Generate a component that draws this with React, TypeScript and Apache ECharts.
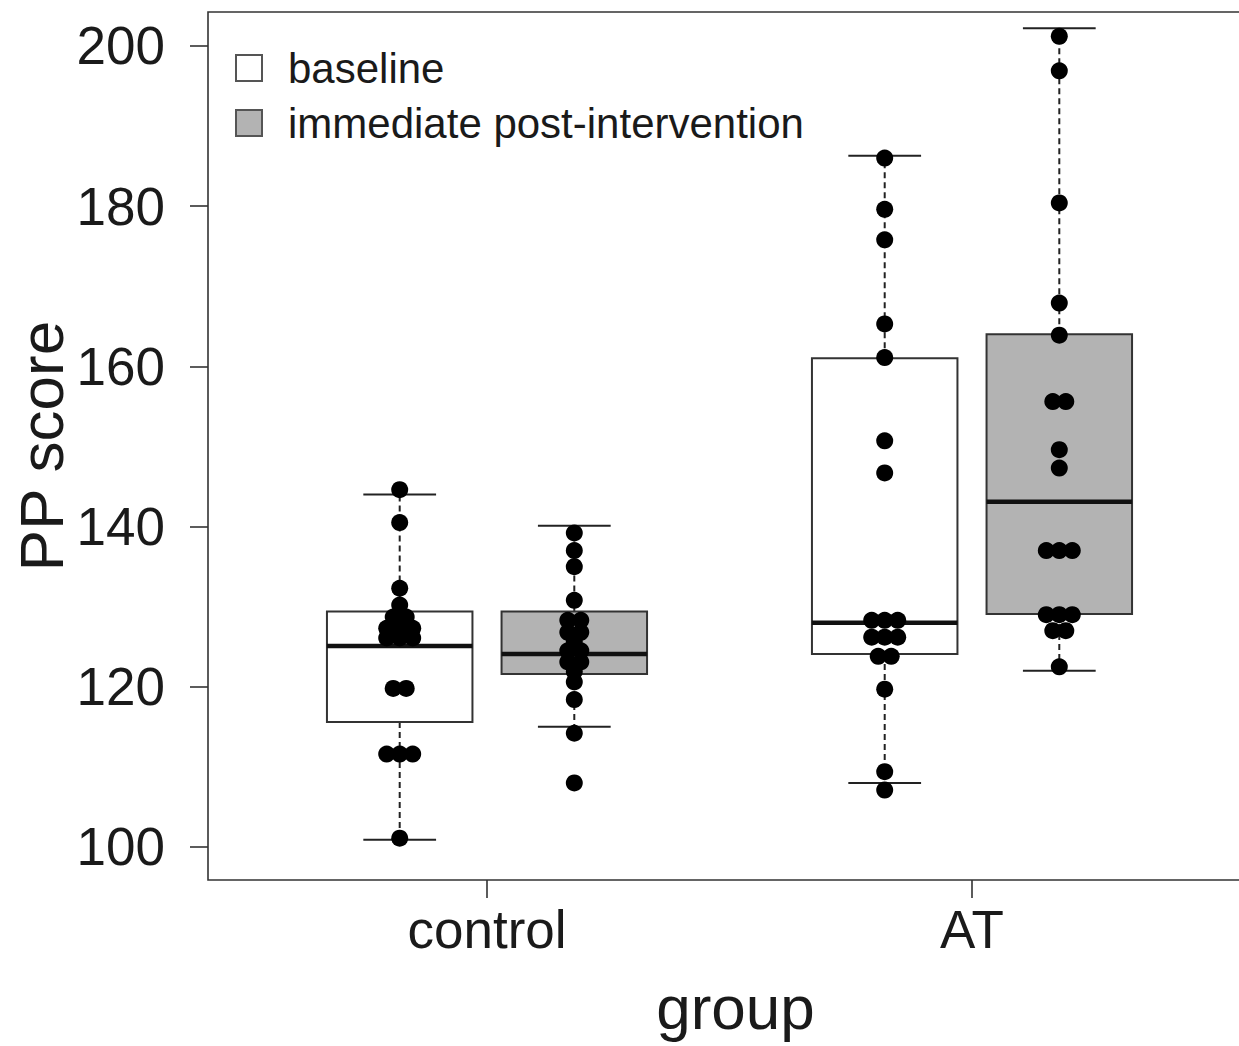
import React, { useEffect, useRef } from "react";
import * as echarts from "echarts";

// ---------- data ----------
const groups = ["control", "AT"];
const groupPositions = [1, 2];
const seriesNames = ["baseline", "immediate post-intervention"];

// box stats: [lower whisker, Q1, median, Q3, upper whisker] per group
const baselineStats = [
  [100.9, 115.6, 125.1, 129.4, 144.0],
  [108.0, 124.1, 128.0, 161.0, 186.3],
];
const postStats = [
  [115.0, 121.6, 124.1, 129.4, 140.1],
  [122.0, 129.1, 143.1, 164.0, 202.2],
];

// individual scores (as displayed in the beeswarm)
const controlBaseline = [144.6, 140.5, 132.3, 130.2, 128.7, 128.7, 127.3, 127.3, 127.3, 126.1, 126.1, 126.1, 119.8, 119.8, 111.6, 111.6, 111.6, 101.1];
const controlPost = [139.2, 137.0, 135.0, 130.8, 128.3, 128.3, 126.8, 126.8, 125.7, 124.5, 124.5, 123.1, 123.1, 121.9, 120.6, 118.4, 114.2, 108.0];
const atBaseline = [186.0, 179.6, 175.8, 165.3, 161.1, 150.7, 146.7, 128.3, 128.3, 128.3, 126.2, 126.2, 126.2, 123.8, 123.8, 119.7, 109.4, 107.1];
const atPost = [201.2, 196.9, 180.4, 167.9, 163.9, 155.6, 155.6, 149.6, 147.3, 137.0, 137.0, 137.0, 129.0, 129.0, 129.0, 127.0, 127.0, 122.5];

const yTicks = [100, 120, 140, 160, 180, 200];

// ---------- layout ----------
const FONT = "'Liberation Sans', Arial, Helvetica, sans-serif";
const TEXT = "#1a1a1a";
const LINE = "#333333";
const GRID_LEFT = 208;
const GRID_TOP = 12;
const GRID_W = 1055;
const GRID_H = 868;
const X_MIN = 0.42474;
const X_MAX = 2.6;
const Y_MIN = 95.88;
const Y_MAX = 204.24;
const PX_PER_X = GRID_W / (X_MAX - X_MIN);
const BOX_OFFSET = 0.18;
const BOX_W = 0.30;
const CAP_W = 0.15;
const DOT_SIZE = 17;
const DOT_SPACING = 13 / PX_PER_X;

function swarm(values: number[], center: number) {
  const counts = new Map<number, number>();
  values.forEach((v) => counts.set(v, (counts.get(v) || 0) + 1));
  const seen = new Map<number, number>();
  return values.map((v) => {
    const n = counts.get(v) as number;
    const i = seen.get(v) || 0;
    seen.set(v, i + 1);
    return [center + (i - (n - 1) / 2) * DOT_SPACING, v];
  });
}

function boxRender(fill: string) {
  return (params: any, api: any) => {
    const x = api.value(0);
    const lo = api.value(1), q1 = api.value(2), med = api.value(3), q3 = api.value(4), hi = api.value(5);
    const h = BOX_W / 2;
    const c = CAP_W / 2;
    const pTL = api.coord([x - h, q3]);
    const pBR = api.coord([x + h, q1]);
    const pMedL = api.coord([x - h, med]);
    const pMedR = api.coord([x + h, med]);
    const pHi = api.coord([x, hi]);
    const pLo = api.coord([x, lo]);
    const pQ3 = api.coord([x, q3]);
    const pQ1 = api.coord([x, q1]);
    const capHiL = api.coord([x - c, hi]);
    const capHiR = api.coord([x + c, hi]);
    const capLoL = api.coord([x - c, lo]);
    const capLoR = api.coord([x + c, lo]);
    const dash = { stroke: "#222", lineWidth: 2, lineDash: [6, 4] };
    const solid = { stroke: "#222", lineWidth: 2 };
    return {
      type: "group",
      children: [
        { type: "line", shape: { x1: pQ3[0], y1: pQ3[1], x2: pHi[0], y2: pHi[1] }, style: dash },
        { type: "line", shape: { x1: pQ1[0], y1: pQ1[1], x2: pLo[0], y2: pLo[1] }, style: dash },
        { type: "line", shape: { x1: capHiL[0], y1: capHiL[1], x2: capHiR[0], y2: capHiR[1] }, style: solid },
        { type: "line", shape: { x1: capLoL[0], y1: capLoL[1], x2: capLoR[0], y2: capLoR[1] }, style: solid },
        {
          type: "rect",
          shape: { x: pTL[0], y: pTL[1], width: pBR[0] - pTL[0], height: pBR[1] - pTL[1] },
          style: { fill, stroke: "#333", lineWidth: 2 },
        },
        {
          type: "line",
          shape: { x1: pMedL[0], y1: pMedL[1], x2: pMedR[0], y2: pMedR[1] },
          style: { stroke: "#111", lineWidth: 4.5 },
        },
      ],
    };
  };
}

export default function App() {
  const ref = useRef<HTMLDivElement>(null);
  useEffect(() => {
    if (!ref.current) return;
    const chart = echarts.init(ref.current, undefined, { renderer: "svg" });
    const fills = ["#ffffff", "#b3b3b3"];
    const stats = [baselineStats, postStats];
    const boxSeries = seriesNames.map((name, k) => ({
      name,
      type: "custom",
      renderItem: boxRender(fills[k]),
      itemStyle: { color: fills[k], borderColor: "#555", borderWidth: 1.5 },
      encode: { x: 0, y: [1, 2, 3, 4, 5] },
      data: stats[k].map((s, i) => [groupPositions[i] + (k === 0 ? -BOX_OFFSET : BOX_OFFSET), ...s]),
      z: 2,
    }));
    const dotSets = [
      swarm(controlBaseline, groupPositions[0] - BOX_OFFSET),
      swarm(controlPost, groupPositions[0] + BOX_OFFSET),
      swarm(atBaseline, groupPositions[1] - BOX_OFFSET),
      swarm(atPost, groupPositions[1] + BOX_OFFSET),
    ];
    const dots = {
      name: "points",
      type: "scatter",
      symbol: "circle",
      symbolSize: DOT_SIZE,
      itemStyle: { color: "#000", opacity: 1 },
      data: ([] as number[][]).concat(...dotSets),
      z: 5,
      silent: true,
    };
    chart.setOption({
      animation: false,
      backgroundColor: "#ffffff",
      textStyle: { fontFamily: FONT },
      grid: {
        left: GRID_LEFT,
        top: GRID_TOP,
        width: GRID_W,
        height: GRID_H,
        outerBoundsMode: "none",
        containLabel: false,
        show: true,
        borderColor: LINE,
        borderWidth: 1.6,
        backgroundColor: "transparent",
      },
      legend: {
        data: seriesNames.map((n) => ({ name: n, icon: "rect" })),
        orient: "vertical",
        left: 235,
        top: 47,
        padding: 0,
        itemWidth: 26,
        itemHeight: 26,
        itemGap: 13,
        selectedMode: false,
        textStyle: { fontSize: 42, color: TEXT, fontFamily: FONT, padding: [0, 0, 0, 21] },
      },
      xAxis: {
        type: "value",
        min: X_MIN,
        max: X_MAX,
        name: "group",
        nameLocation: "middle",
        nameGap: 96,
        nameTextStyle: { fontSize: 62, color: TEXT, fontFamily: FONT },
        axisLine: { show: false },
        splitLine: { show: false },
        axisTick: { show: true, length: 18, customValues: groupPositions, lineStyle: { color: LINE, width: 1.6 } },
        axisLabel: {
          customValues: groupPositions,
          formatter: (v: number) => groups[groupPositions.indexOf(v)] ?? "",
          fontSize: 53,
          color: TEXT,
          fontFamily: FONT,
          margin: 23,
        },
      },
      yAxis: {
        type: "value",
        min: Y_MIN,
        max: Y_MAX,
        name: "PP score",
        nameLocation: "middle",
        nameGap: 136,
        nameMoveOverlap: false,
        nameTextStyle: { fontSize: 62, color: TEXT, fontFamily: FONT },
        axisLine: { show: false },
        splitLine: { show: false },
        axisTick: { show: true, length: 18, customValues: yTicks, lineStyle: { color: LINE, width: 1.6 } },
        axisLabel: {
          customValues: yTicks,
          fontSize: 53,
          color: TEXT,
          fontFamily: FONT,
          margin: 43,
        },
      },
      series: [...boxSeries, dots],
    });
    return () => chart.dispose();
  }, []);
  return (
    <div style={{ position: "fixed", left: 0, top: 0, width: 1239, height: 1046, overflow: "hidden", background: "#fff" }}>
      <div ref={ref} style={{ width: 1290, height: 1046 }} />
    </div>
  );
}
